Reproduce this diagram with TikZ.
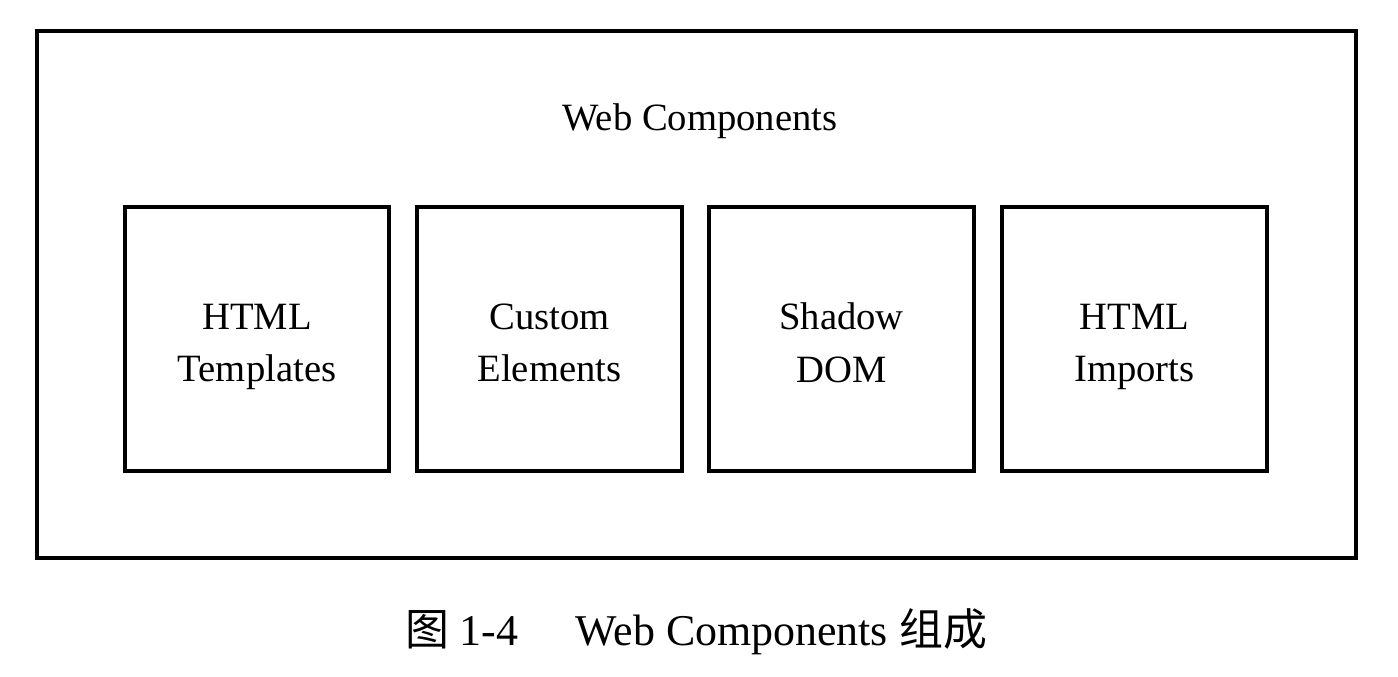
\documentclass[tikz,border=0pt]{standalone}
\usepackage{fontspec}
\setmainfont{Liberation Serif}
\newfontfamily\cjk{Noto Sans CJK SC}

\begin{document}
\begin{tikzpicture}[x=0.02cm, y=-0.02cm]
        \tikzstyle{every node}+=[inner sep=0pt, font=\fontsize{22}{30}\selectfont, align=center]
        \tikzstyle{frame}=[black, line width=2.2pt]
        \useasboundingbox (0,0) rectangle (1398,676);
        \draw [frame] (37,31) rectangle (1356,558);
        \node (title) at (700,121) {Web Components};
        \draw [frame] (125,207) rectangle (389,471);
        \node (templates) at (257,347) {HTML\\Templates};
        \draw [frame] (417,207) rectangle (682,471);
        \node (elements) at (549.5,343) {Custom\\Elements};
        \draw [frame] (709,207) rectangle (974,471);
        \node (shadow) at (841.5,343) {Shadow\\DOM};
        \draw [frame] (1002,207) rectangle (1267,471);
        \node (imports) at (1134.5,347) {HTML\\Imports};
        \node [font=\fontsize{25}{30}\selectfont] (caption) at (696,632) {{\cjk 图} 1-4\hspace{1.3em}Web Components {\cjk 组成}};
      \end{tikzpicture}
\end{document}
